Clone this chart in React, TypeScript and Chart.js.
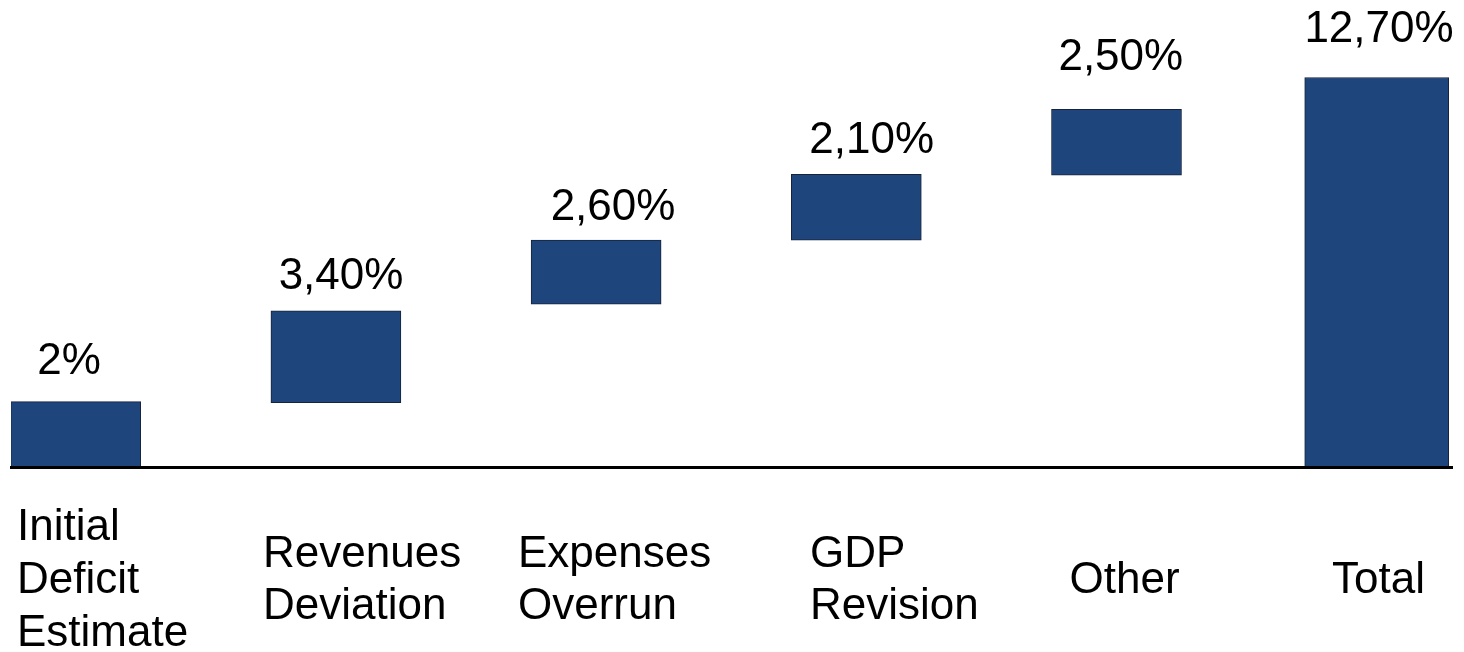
import React, { useEffect, useRef } from "react";
import { Chart, registerables } from "chart.js";

Chart.register(...registerables);

// ---- data ----
const categories: (string | string[])[] = [
  ["Initial", "Deficit", "Estimate"],
  ["Revenues", "Deviation"],
  ["Expenses", "Overrun"],
  ["GDP", "Revision"],
  "Other",
  "Total",
];
// floating bar extents (as drawn in the picture)
const barStart = [0, 2.1, 5.31, 7.4, 9.52, 0];
const barEnd = [2.13, 5.09, 7.4, 9.54, 11.66, 12.7];
const valueLabels = ["2%", "3,40%", "2,60%", "2,10%", "2,50%", "12,70%"];

// ---- style / layout ----
const FONT = '"Liberation Sans", Arial, Helvetica, sans-serif';
const BAR_COLOR = "#1E467D";
const BAR_BORDER = "#17233A";
const tickShift = [-0.2256, -0.2802, -0.3002, -0.1779, -0.1806, -0.1718];
const labelDx = [-6.7, 5.1, 16.9, 15.4, 4.3, 2.3];
const labelDy = [40, 34.3, 32, 33.5, 51.8, 48];

const valueLabelPlugin = {
  id: "valueLabels",
  afterDatasetsDraw(chart: any) {
    const ctx = chart.ctx;
    ctx.save();
    ctx.font = `44px ${FONT}`;
    ctx.fillStyle = "#000";
    ctx.textAlign = "center";
    ctx.textBaseline = "middle";
    chart.data.datasets.forEach((ds: any, di: number) => {
      const meta = chart.getDatasetMeta(di);
      meta.data.forEach((el: any, i: number) => {
        const idx = ds.data[i].x;
        ctx.fillText(valueLabels[idx], el.x + labelDx[idx], el.y - labelDy[idx]);
      });
    });
    ctx.restore();
  },
};

export default function App() {
  const ref = useRef<HTMLCanvasElement | null>(null);

  useEffect(() => {
    if (!ref.current) return;
    const steps = categories.slice(0, 5).map((_, i) => ({ x: i, y: [barStart[i], barEnd[i]] }));
    const total = [{ x: 5, y: [barStart[5], barEnd[5]] }];

    const chart = new Chart(ref.current, {
      type: "bar",
      data: {
        datasets: [
          {
            data: steps as any,
            backgroundColor: BAR_COLOR,
            borderColor: BAR_BORDER,
            borderWidth: 1,
            borderSkipped: false,
            barThickness: 130,
            grouped: false,
          },
          {
            data: total as any,
            backgroundColor: BAR_COLOR,
            borderColor: BAR_BORDER,
            borderWidth: 1,
            borderSkipped: false,
            barThickness: 144,
            grouped: false,
          },
        ],
      },
      options: {
        animation: false,
        responsive: false,
        maintainAspectRatio: false,
        layout: { padding: { left: 11, right: 11.5, top: 7, bottom: 0 } },
        plugins: {
          legend: { display: false },
          tooltip: { enabled: false },
        },
        scales: {
          x: {
            type: "linear",
            min: -0.2487,
            max: 5.2913,
            offset: false,
            grid: { display: false, drawTicks: false },
            border: { display: true, color: "#000", width: 3, z: 1 },
            afterBuildTicks: (scale: any) => {
              scale.ticks = categories.map((_, i) => ({ value: i + tickShift[i] }));
            },
            afterFit: (scale: any) => {
              scale.height = 185;
              scale.paddingLeft = 0;
              scale.paddingRight = 0;
            },
            ticks: {
              autoSkip: false,
              maxRotation: 0,
              minRotation: 0,
              align: "start",
              crossAlign: "center",
              padding: 61,
              color: "#000",
              font: { size: 44, family: FONT, lineHeight: 1.2 },
              callback: (_v: any, i: number) => categories[i] as any,
            },
          },
          y: {
            display: false,
            min: 0,
            max: 15,
          },
        },
      },
      plugins: [valueLabelPlugin],
    });
    return () => chart.destroy();
  }, []);

  return (
    <div style={{ position: "fixed", left: 0, top: 0, width: 1464, height: 652, background: "#fff" }}>
      <canvas ref={ref} width={1464} height={652} style={{ width: 1464, height: 652, display: "block" }} />
    </div>
  );
}
